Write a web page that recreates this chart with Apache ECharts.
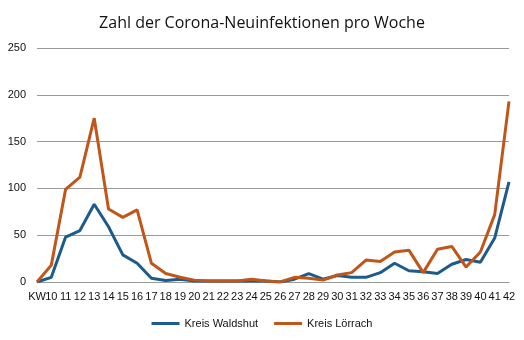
<!DOCTYPE html>
<html><head><meta charset="utf-8">
<script src="https://cdn.jsdelivr.net/npm/echarts@6/dist/echarts.min.js"></script>
<style>html,body{margin:0;padding:0;background:#fff}#c{width:524px;height:340px}</style>
</head><body><div id="c"></div>
<script>
const categories = ["KW","10","11","12","13","14","15","16","17","18","19","20","21","22","23","24","25","26","27","28","29","30","31","32","33","34","35","36","37","38","39","40","41","42"];
const waldshut = [0,5,48,55,83,59,29,20,4,1.5,3,1,1,1,1,1,1,0,3,9,3,7,5,5,10,20,12,11,9,19,24,21,47,107];
const loerrach = [0,18,99,112,175,78,69,77,20,9,5,2,1,1,1,3,1,0,5,4,2,7.5,10,23.5,22,32,34,10,35,38,16,32,72,193];
const yTicks = [0,50,100,150,200,250];

const chart = echarts.init(document.getElementById('c'));
const font = "'Open Sans', sans-serif";
const axisFont = "'Liberation Sans', Arial, sans-serif";
chart.setOption({
  animation:false,
  title:{text:"Zahl der Corona-Neuinfektionen pro Woche",left:'center',top:10,
    textStyle:{fontFamily:font,fontSize:16,fontWeight:'normal',color:'#111'}},
  grid:{left:37,right:15,top:48,bottom:58},
  legend:{bottom:6,left:'center',itemWidth:28,itemHeight:3,itemGap:16,icon:'rect',
    textStyle:{fontFamily:axisFont,fontSize:11,color:'#111'},
    data:['Kreis Waldshut','Kreis Lörrach']},
  xAxis:{type:'category',data:categories,boundaryGap:false,
    axisLine:{lineStyle:{color:'#999'}},axisTick:{show:false},
    axisLabel:{interval:0,fontFamily:axisFont,fontSize:11,color:'#111',margin:9}},
  yAxis:{type:'value',min:yTicks[0],max:yTicks[yTicks.length-1],interval:50,
    axisLine:{show:false},axisTick:{show:false},
    splitLine:{lineStyle:{color:'#9a9a9a'}},
    axisLabel:{fontFamily:axisFont,fontSize:11,color:'#111',margin:11}},
  series:[
    {name:'Kreis Waldshut',type:'line',data:waldshut,symbol:'none',
      lineStyle:{width:3,color:'#1d5b8c'},itemStyle:{color:'#1d5b8c'}},
    {name:'Kreis Lörrach',type:'line',data:loerrach,symbol:'none',
      lineStyle:{width:3,color:'#c0561a'},itemStyle:{color:'#c0561a'}}
  ]
});
</script></body></html>
